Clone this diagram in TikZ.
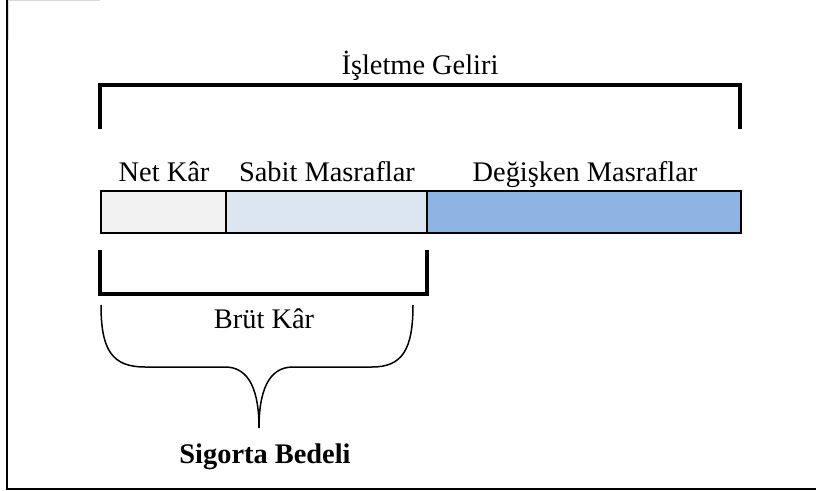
\documentclass[tikz,border=0pt]{standalone}
\usepackage{fontspec}
\setmainfont{Liberation Serif}
\definecolor{netgray}{HTML}{F2F2F2}
\definecolor{sabitblue}{HTML}{DCE6F1}
\definecolor{degblue}{HTML}{8DB4E2}
\definecolor{framegray}{HTML}{D9D9D9}
\begin{document}
\begin{tikzpicture}[x=1bp,y=-1bp,
  lbl/.style={font=\fontsize{28.5}{34}\selectfont, anchor=base, inner sep=0pt},
  seg/.style={draw=black, line width=2bp, minimum height=42bp, inner sep=0pt, outer sep=0pt, anchor=north west},
  bracket/.style={line width=3.6bp, line cap=rect},
  brace/.style={line width=1.5bp}]
  \useasboundingbox (0,0) rectangle (816,491);

  % frame
  \draw[framegray, line width=1.5bp] (8.5,40) -- (8.5,0.7) -- (100,0.7);
  \draw[line width=2.6bp] (7,0) -- (7,489) -- (816,489);

  % total income bracket
  \coordinate (tl) at (100,127);
  \coordinate (tr) at (740,127);
  \draw[bracket] (tl) -- (100,85) -- (740,85) -- (tr);
  \node[lbl] (gelir) at (420,75) {İşletme Geliri};

  % bar
  \node[seg, fill=netgray, minimum width=125bp] (net) at (101,191) {};
  \node[seg, fill=sabitblue, minimum width=201bp] (sabit) at (net.north east) {};
  \node[seg, fill=degblue, minimum width=314bp] (deg) at (sabit.north east) {};

  \node[lbl] (netl) at (164,182) {Net Kâr};
  \node[lbl] (sabitl) at (327,182) {Sabit Masraflar};
  \node[lbl] (degl) at (585,182) {Değişken Masraflar};

  % gross profit bracket
  \coordinate (bl) at (100,252);
  \coordinate (br) at (427,252);
  \draw[bracket] (bl) -- (100,294) -- (427,294) -- (br);
  \node[lbl] (brut) at (264,328) {Brüt Kâr};

  % curly brace
  \coordinate (cl) at (101,305);
  \coordinate (cr) at (413,305);
  \coordinate (tip) at (259,428);
  \draw[brace] (cl) .. controls (101,350) and (112,367) .. (145,367)
    -- (225,367) .. controls (250,367) and (259,392) .. (tip);
  \draw[brace] (cr) .. controls (413,350) and (402,367) .. (372,367)
    -- (293,367) .. controls (268,367) and (259,392) .. (tip);

  \node[lbl, font=\fontsize{28.5}{34}\selectfont\bfseries] (sigorta) at (265,463) {Sigorta Bedeli};
\end{tikzpicture}
\end{document}
